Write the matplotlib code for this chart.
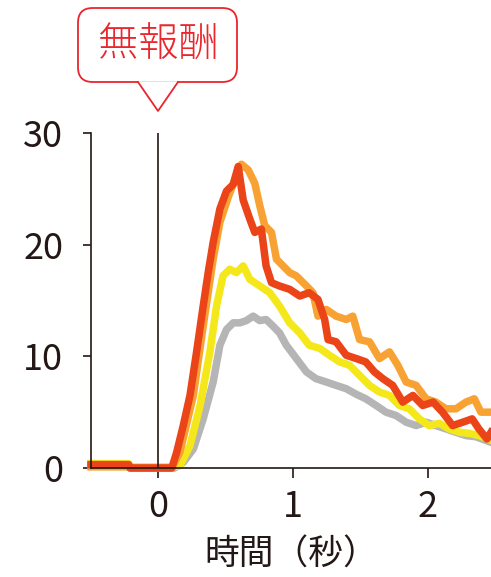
import matplotlib
matplotlib.use("Agg")
import matplotlib.pyplot as plt
from matplotlib.patches import FancyBboxPatch, Polygon
from matplotlib.lines import Line2D

plt.rcParams['font.family'] = ['Noto Sans CJK JP', 'DejaVu Sans']

# data (time in s, value)
t_gray = [-0.5, -0.22, -0.21, 0.12, 0.185, 0.26, 0.333, 0.407, 0.457, 0.506, 0.556, 0.605,
          0.654, 0.704, 0.753, 0.8, 0.852, 0.9, 0.95, 1.025, 1.1, 1.17, 1.247, 1.32, 1.395,
          1.47, 1.54, 1.617, 1.69, 1.765, 1.84, 1.914, 1.99, 2.06, 2.136, 2.21, 2.284, 2.358, 2.47]
y_gray = [0.3, 0.3, 0.0, 0.0, 0.5, 1.7, 4.4, 7.7, 11.0, 12.4, 13.0, 13.0,
          13.2, 13.6, 13.2, 13.3, 12.7, 12.1, 11.0, 9.8, 8.6, 8.0, 7.7, 7.4, 7.1,
          6.6, 6.2, 5.6, 5.0, 4.7, 4.1, 3.8, 4.1, 3.8, 3.5, 3.2, 2.9, 2.8, 2.3]

t_yellow = [-0.5, -0.22, -0.21, 0.1, 0.16, 0.235, 0.31, 0.383, 0.432, 0.48, 0.53, 0.58,
            0.63, 0.679, 0.753, 0.827, 0.9, 0.975, 1.05, 1.12, 1.2, 1.27, 1.346, 1.42,
            1.494, 1.568, 1.642, 1.716, 1.79, 1.864, 1.938, 2.01, 2.086, 2.16, 2.235,
            2.31, 2.383, 2.47]
y_yellow = [0.4, 0.4, 0.1, 0.1, 0.2, 2.0, 5.6, 10.4, 14.5, 17.2, 17.8, 17.5,
            18.1, 16.9, 16.3, 15.7, 14.5, 13.0, 12.1, 11.0, 10.7, 10.1, 9.5, 9.2,
            8.3, 7.4, 6.8, 6.5, 5.6, 5.3, 4.4, 3.8, 4.0, 3.5, 3.2,
            3.1, 2.9, 2.5]

t_orange = [-0.5, -0.22, -0.21, 0.1, 0.16, 0.26, 0.333, 0.407, 0.457, 0.52, 0.568, 0.617,
            0.667, 0.716, 0.753, 0.79, 0.84, 0.877, 0.926, 0.975, 1.025, 1.1, 1.148, 1.185,
            1.247, 1.32, 1.395, 1.444, 1.494, 1.568, 1.642, 1.716, 1.778, 1.84, 1.914,
            1.988, 2.06, 2.136, 2.21, 2.284, 2.346, 2.395, 2.47]
y_orange = [0.1, 0.1, 0.0, 0.0, 1.4, 6.5, 12.7, 18.7, 22.0, 24.3, 25.8, 27.2,
            26.7, 25.5, 23.5, 21.7, 21.1, 18.7, 18.1, 17.5, 17.2, 16.3, 15.7, 13.6,
            14.2, 13.6, 13.3, 13.6, 11.5, 11.3, 9.8, 10.4, 9.2, 7.7, 7.4,
            6.2, 5.9, 5.3, 5.3, 5.9, 6.2, 5.0, 5.0]

t_red = [-0.5, -0.22, -0.21, 0.1, 0.136, 0.185, 0.235, 0.284, 0.333, 0.37, 0.407, 0.457,
         0.506, 0.556, 0.593, 0.63, 0.679, 0.716, 0.765, 0.8, 0.84, 0.9, 0.975, 1.05,
         1.12, 1.185, 1.235, 1.26, 1.32, 1.395, 1.47, 1.54, 1.605, 1.667, 1.74, 1.815,
         1.89, 1.963, 2.04, 2.11, 2.185, 2.26, 2.33, 2.38, 2.44, 2.47]
y_red = [0.3, 0.3, 0.0, 0.0, 1.4, 3.8, 6.5, 10.4, 14.5, 17.5, 20.2, 23.2,
         24.8, 25.4, 27.0, 24.0, 22.3, 21.1, 21.4, 18.1, 16.6, 16.3, 16.0, 15.4,
         15.7, 15.1, 13.3, 11.5, 11.3, 10.1, 9.8, 9.5, 8.6, 8.0, 7.4, 5.9,
         6.5, 5.6, 5.9, 5.0, 3.8, 4.1, 4.4, 3.5, 2.6, 3.2]

x_ticks = [0, 1, 2]
y_ticks = [0, 10, 20, 30]
callout_text = "無報酬"
x_label = "時間（秒）"

W, H = 491, 577
ink = "#231815"
red_ink = "#e8262c"

fig = plt.figure(figsize=(W / 100, H / 100), dpi=100)
ax = fig.add_axes([91 / W, 1 - 468 / H, (W - 91) / W, (468 - 133) / H])

ax.plot(t_gray, y_gray, color="#b5b5b5", lw=5.4, solid_joinstyle="round", clip_on=False)
ax.plot(t_yellow, y_yellow, color="#f5e81a", lw=5.4, solid_joinstyle="round", clip_on=False)
ax.plot(t_orange, y_orange, color="#f8a233", lw=5.4, solid_joinstyle="round", clip_on=False)
ax.plot(t_red, y_red, color="#ea4418", lw=5.4, solid_joinstyle="round", clip_on=False)

ax.axvline(0, color=ink, lw=1.2, zorder=5)

ax.set_xlim(-0.5, 2.47)
ax.set_ylim(0, 30)
ax.set_xticks(x_ticks)
ax.set_yticks(y_ticks)
for s in ["top", "right"]:
    ax.spines[s].set_visible(False)
for s in ["left", "bottom"]:
    ax.spines[s].set_color(ink)
    ax.spines[s].set_linewidth(1.2)
ax.tick_params(axis="x", length=7, width=1.2, color=ink, labelsize=26, labelcolor=ink, pad=8)
ax.tick_params(axis="y", length=6, width=1.2, color=ink, labelsize=26, labelcolor=ink, pad=14)
ax.set_xlabel(x_label, fontsize=25, color=ink, labelpad=9)


def fx(px):
    return px / W


def fy(py):
    return 1 - py / H


# callout box with pointer
box = FancyBboxPatch((fx(78), fy(82)), fx(237) - fx(78), fy(8) - fy(82),
                     boxstyle="round,pad=0,rounding_size=0.03",
                     transform=fig.transFigure, facecolor="white",
                     edgecolor=red_ink, lw=1.3, mutation_aspect=W / H)
fig.patches.append(box)
tri = Polygon([(fx(138), fy(81.2)), (fx(158), fy(111)), (fx(178), fy(81.2))],
              closed=True, transform=fig.transFigure, facecolor="white", edgecolor="none")
fig.patches.append(tri)
fig.lines.append(Line2D([fx(138), fx(158), fx(178)], [fy(82), fy(111), fy(82)],
                        transform=fig.transFigure, color=red_ink, lw=1.3))
fig.text(fx(158), fy(45), callout_text, color=red_ink, fontsize=29, fontweight="light",
         ha="center", va="center")

fig.savefig("out.png", dpi=100)
